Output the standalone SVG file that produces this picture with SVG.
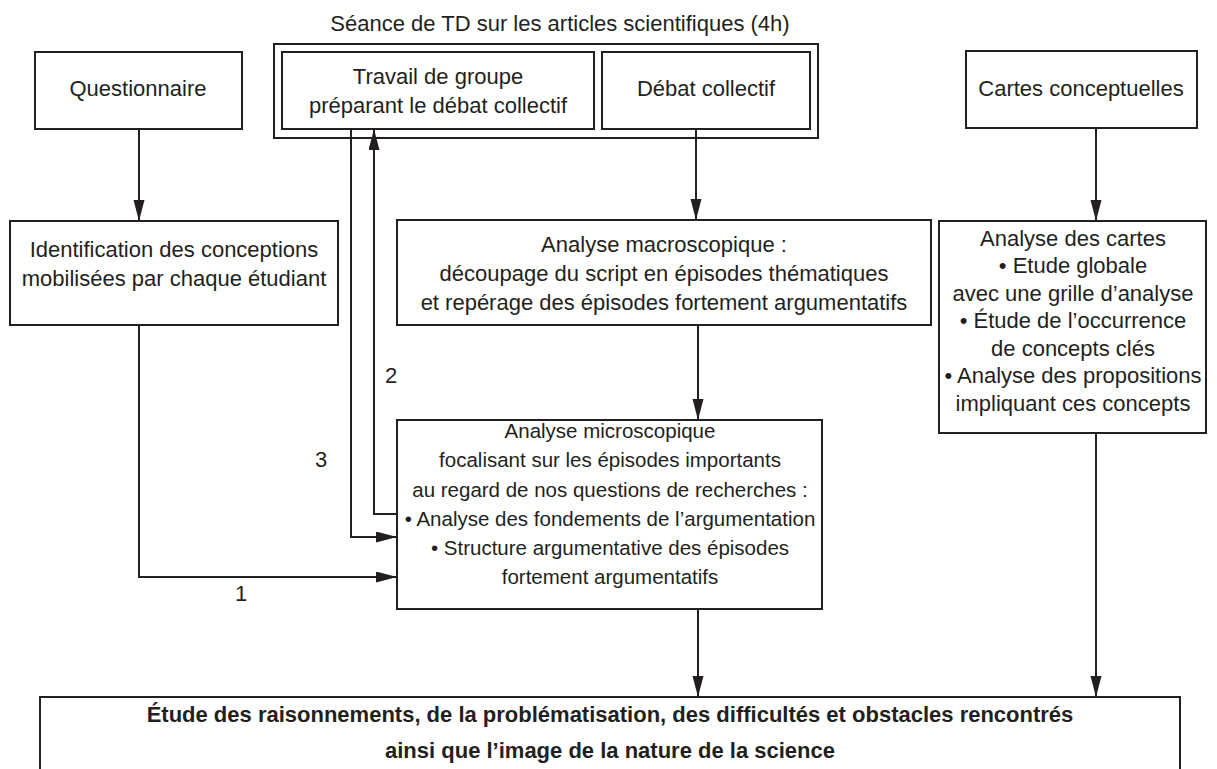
<svg xmlns="http://www.w3.org/2000/svg" width="1217" height="769" viewBox="0 0 1217 769">
<style>
  .box { fill: #ffffff; stroke: #231f20; stroke-width: 2; }
  .txt { font-family: "Liberation Sans", Arial, sans-serif; font-size: 22px; fill: #231f20; text-anchor: middle; }
  .sm { font-size: 20.5px; }
  .bold { font-weight: bold; }
  .conn { fill: none; stroke: #231f20; stroke-width: 2; }
</style>
<defs>
  <marker id="arrow" markerUnits="userSpaceOnUse" markerWidth="22" markerHeight="12" refX="21" refY="5.5" orient="auto">
    <path d="M0,0 L21,5.5 L0,11 z" fill="#231f20"/>
  </marker>
</defs>
<rect width="1217" height="769" fill="#ffffff"/>

<g id="seance">
  <text class="txt" x="560" y="31">Séance de TD sur les articles scientifiques (4h)</text>
  <rect class="box" x="274" y="44" width="544" height="94"/>
</g>
<g id="travail">
  <rect class="box" x="282" y="52" width="312" height="77"/>
  <text class="txt" x="438" y="84">Travail de groupe</text>
  <text class="txt" x="438" y="113">préparant le débat collectif</text>
</g>
<g id="debat">
  <rect class="box" x="602" y="52" width="208" height="77"/>
  <text class="txt" x="706" y="96">Débat collectif</text>
</g>
<g id="questionnaire">
  <rect class="box" x="35" y="52" width="207" height="77"/>
  <text class="txt" x="138" y="96">Questionnaire</text>
</g>
<g id="cartes">
  <rect class="box" x="966" y="51" width="231" height="77"/>
  <text class="txt" x="1081" y="96">Cartes conceptuelles</text>
</g>
<g id="identification">
  <rect class="box" x="10" y="221" width="328" height="104"/>
  <text class="txt" x="174" y="257">Identification des conceptions</text>
  <text class="txt" x="174" y="286">mobilisées par chaque étudiant</text>
</g>
<g id="macro">
  <rect class="box" x="397" y="220" width="534" height="105"/>
  <text class="txt" x="664" y="252">Analyse macroscopique :</text>
  <text class="txt" x="664" y="281">découpage du script en épisodes thématiques</text>
  <text class="txt" x="664" y="310">et repérage des épisodes fortement argumentatifs</text>
</g>
<g id="analyse-cartes">
  <rect class="box" x="939" y="221" width="267" height="212"/>
  <text class="txt" x="1073" y="246">Analyse des cartes</text>
  <text class="txt" x="1073" y="273">• Etude globale</text>
  <text class="txt" x="1073" y="301">avec une grille d’analyse</text>
  <text class="txt" x="1073" y="328">• Étude de l’occurrence</text>
  <text class="txt" x="1073" y="356">de concepts clés</text>
  <text class="txt" x="1073" y="383">• Analyse des propositions</text>
  <text class="txt" x="1073" y="411">impliquant ces concepts</text>
</g>
<g id="micro">
  <rect class="box" x="397" y="420" width="425" height="189"/>
  <text class="txt sm" x="610" y="438">Analyse microscopique</text>
  <text class="txt sm" x="610" y="467">focalisant sur les épisodes importants</text>
  <text class="txt sm" x="610" y="497">au regard de nos questions de recherches :</text>
  <text class="txt sm" x="610" y="526">• Analyse des fondements de l’argumentation</text>
  <text class="txt sm" x="610" y="555">• Structure argumentative des épisodes</text>
  <text class="txt sm" x="610" y="584">fortement argumentatifs</text>
</g>
<g id="etude">
  <path class="box" d="M40,775 L40,697 L1180,697 L1180,775"/>
  <text class="txt bold" x="610" y="722">Étude des raisonnements, de la problématisation, des difficultés et obstacles rencontrés</text>
  <text class="txt bold" x="610" y="758">ainsi que l’image de la nature de la science</text>
</g>

<g id="connectors">
  <line class="conn" x1="139" y1="129" x2="139" y2="221" marker-end="url(#arrow)"/>
  <line class="conn" x1="696" y1="129" x2="696" y2="220" marker-end="url(#arrow)"/>
  <line class="conn" x1="1096" y1="128" x2="1096" y2="221" marker-end="url(#arrow)"/>
  <line class="conn" x1="698" y1="325" x2="698" y2="420" marker-end="url(#arrow)"/>
  <line class="conn" x1="698" y1="609" x2="698" y2="697" marker-end="url(#arrow)"/>
  <line class="conn" x1="1096" y1="433" x2="1096" y2="697" marker-end="url(#arrow)"/>
  <polyline class="conn" points="139,325 139,577 397,577" marker-end="url(#arrow)"/>
  <polyline class="conn" points="351,129 351,537 397,537" marker-end="url(#arrow)"/>
  <polyline class="conn" points="397,514 374,514 374,129" marker-end="url(#arrow)"/>
  <text class="txt" x="241" y="601">1</text>
  <text class="txt" x="391" y="383">2</text>
  <text class="txt" x="321" y="467">3</text>
</g>
</svg>
